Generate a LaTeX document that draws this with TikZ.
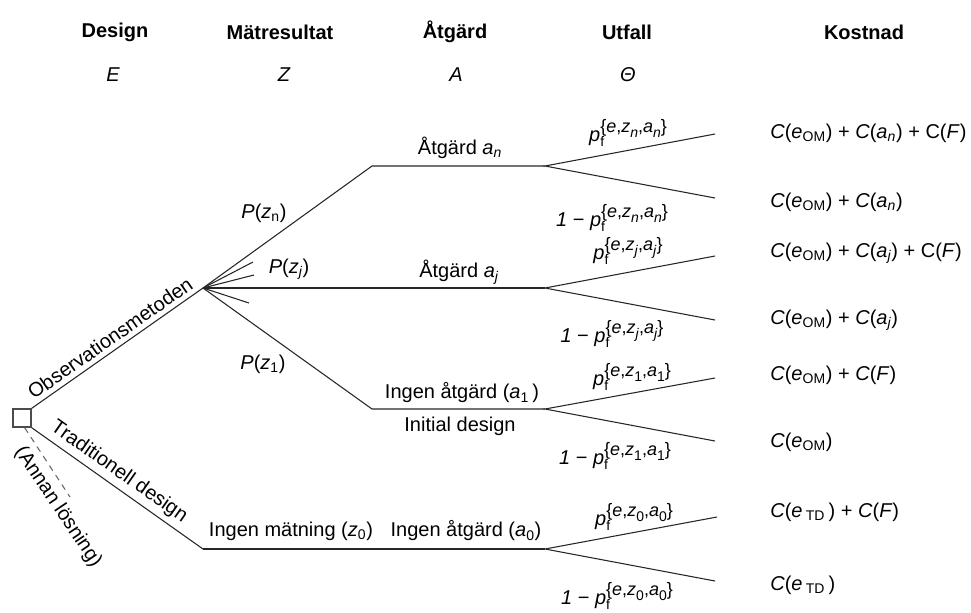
\documentclass[tikz,border=0pt]{standalone}
\usepackage{fontspec}
\usepackage{amsmath}
\setmainfont{Liberation Sans}
\newcommand{\ti}[1]{\text{\itshape #1}}
\newcommand{\lowsub}[1]{\raisebox{-3.2pt}{\fontsize{10.5pt}{11pt}\selectfont #1}}
\newcommand{\pff}[2]{\textit{p}\makebox[0pt][l]{\lowsub{f}}\raisebox{6.8pt}{\fontsize{13.5pt}{14pt}\selectfont\{\textit{e},\textit{z}\lowsub{#1},\textit{a}\lowsub{#2}\}}}
\begin{document}
\begin{tikzpicture}[x=0.75pt,y=-0.75pt,
  font=\fontsize{15pt}{18pt}\selectfont,
  ln/.style={line width=0.8pt, draw=black!85},
  lbl/.style={inner sep=0pt},
  hdr/.style={inner sep=0pt, font=\fontsize{15pt}{18pt}\selectfont\bfseries},
  sym/.style={inner sep=0pt, font=\fontsize{15pt}{18pt}\selectfont\itshape},
  cost/.style={inner sep=0pt, anchor=west}]
\useasboundingbox (0,0) rectangle (971,612);

% headers
\node[hdr] (h1) at (115,32) {Design};
\node[hdr] (h2) at (280,32) {Mätresultat};
\node[hdr] (h3) at (455,32) {Åtgärd};
\node[hdr] (h4) at (627,32) {Utfall};
\node[hdr] (h5) at (864,32) {Kostnad};
\node[sym] (s1) at (113,75) {E};
\node[sym] (s2) at (284,75) {Z};
\node[sym] (s3) at (456,75) {A};
\node[sym] (s4) at (628,75) {Θ};

% decision node
\node[draw=black!70, line width=1pt, minimum size=13.5pt, inner sep=0pt] (dec) at (22,418) {};

% coordinates
\coordinate (F) at (203,288);
\coordinate (T) at (203,549);
\coordinate (dashend) at (70,497);
\coordinate (Nn) at (372,166);
\coordinate (An) at (545,166);
\coordinate (Aj) at (545,288);
\coordinate (N1) at (372,409);
\coordinate (A1) at (545,409);
\coordinate (A0) at (545,549);
\coordinate (f1) at (253,262);
\coordinate (f2) at (254,275);
\coordinate (f3) at (249,303);
\coordinate (En1) at (715,134);
\coordinate (En2) at (715,198);
\coordinate (Ej1) at (715,256);
\coordinate (Ej2) at (715,320);
\coordinate (E11) at (715,378);
\coordinate (E12) at (715,441);
\coordinate (E01) at (717,517);
\coordinate (E02) at (715,581);

% branches
\draw[ln] (dec.north east) -- (F);
\draw[ln] (dec.south east) -- (T);
\draw[ln, draw=black!60, dash pattern=on 4.5pt off 4pt] ([xshift=2pt]dec.south) -- (dashend);
\draw[ln] (F) -- (Nn) -- (An);
\draw[ln] (F) -- (Aj);
\draw[ln] (F) -- (N1) -- (A1);
\draw[ln] (T) -- (A0);
\draw[ln] (F) -- (f1);
\draw[ln] (F) -- (f2);
\draw[ln] (F) -- (f3);
\draw[ln] (En1) -- (An) -- (En2);
\draw[ln] (Ej1) -- (Aj) -- (Ej2);
\draw[ln] (E11) -- (A1) -- (E12);
\draw[ln] (E01) -- (A0) -- (E02);

% rotated labels
\node[lbl, rotate=35] (obs) at (110,338) {Observationsmetoden};
\node[lbl, rotate=-35] (trad) at (119,472) {Traditionell design};
\node[lbl, rotate=-56] (annan) at (58,507) {(Annan lösning)};

% probability labels
\node[lbl] (pzn) at (264,213) {\textit{P}(\textit{z}$_{\text{n}}$)};
\node[lbl] (pzj) at (289,269) {\textit{P}(\textit{z}$_{\ti{j}}$)};
\node[lbl] (pz1) at (263,364) {\textit{P}(\textit{z}$_{\text{1}}$)};

% action labels
\node[lbl] (an) at (460,148) {Åtgärd \textit{a}$_{\ti{n}}$};
\node[lbl] (aj) at (459,272) {Åtgärd \textit{a}$_{\ti{j}}$};
\node[lbl] (a1) at (462,393) {Ingen åtgärd (\textit{a}$_{\text{1}}$\,)};
\node[lbl] (init) at (460,426) {Initial design};
\node[lbl] (z0) at (291,531) {Ingen mätning (\textit{z}$_{\text{0}}$)};
\node[lbl] (a0) at (466,531) {Ingen åtgärd (\textit{a}$_{\text{0}}$)};

% outcome labels
\node[lbl] (pn1) at (628,133) {\pff{\textit{n}}{\textit{n}}};
\node[lbl] (pn2) at (612,218) {\textit{1} − \pff{\textit{n}}{\textit{n}}};
\node[lbl] (pj1) at (628,251) {\pff{\textit{j}}{\textit{j}}};
\node[lbl] (pj2) at (612,334) {\textit{1} − \pff{\textit{j}}{\textit{j}}};
\node[lbl] (p11) at (632,377) {\pff{1}{1}};
\node[lbl] (p12) at (615,456) {\textit{1} − \pff{1}{1}};
\node[lbl] (p01) at (634,517) {\pff{0}{0}};
\node[lbl] (p02) at (617,596) {\textit{1} − \pff{0}{0}};

% costs
\node[cost] (c1) at (770,133) {\textit{C}(\textit{e}$_{\text{OM}}$) + \textit{C}(\textit{a}$_{\ti{n}}$) + C(\textit{F})};
\node[cost] (c2) at (770,202) {\textit{C}(\textit{e}$_{\text{OM}}$) + \textit{C}(\textit{a}$_{\ti{n}}$)};
\node[cost] (c3) at (770,253) {\textit{C}(\textit{e}$_{\text{OM}}$) + \textit{C}(\textit{a}$_{\ti{j}}$) + C(\textit{F})};
\node[cost] (c4) at (770,320) {\textit{C}(\textit{e}$_{\text{OM}}$) + \textit{C}(\textit{a}$_{\ti{j}}$)};
\node[cost] (c5) at (770,375) {\textit{C}(\textit{e}$_{\text{OM}}$) + \textit{C}(\textit{F})};
\node[cost] (c6) at (770,442) {\textit{C}(\textit{e}$_{\text{OM}}$)};
\node[cost] (c7) at (770,512) {\textit{C}(\textit{e}\,$_{\text{TD}}$\,) + \textit{C}(\textit{F})};
\node[cost] (c8) at (770,585) {\textit{C}(\textit{e}\,$_{\text{TD}}$\,)};
\end{tikzpicture}
\end{document}
